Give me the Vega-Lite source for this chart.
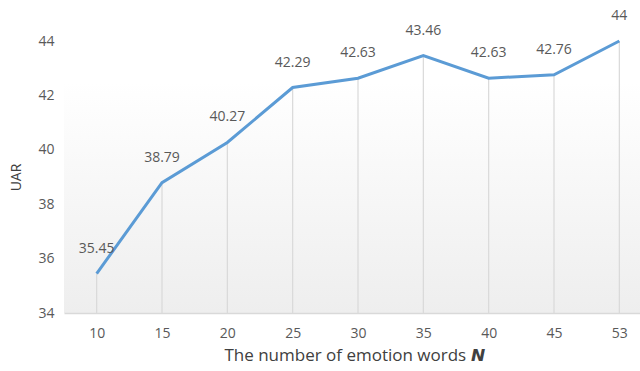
{
  "$schema": "https://vega.github.io/schema/vega-lite/v6.json",
  "width": 588,
  "height": 272,
  "autosize": "none",
  "padding": {"left": 64, "top": 41, "right": 0, "bottom": 58},
  "background": "white",
  "view": {
    "stroke": null,
    "fill": {
      "gradient": "linear",
      "x1": 0, "y1": 0, "x2": 0, "y2": 1,
      "stops": [
        {"offset": 0, "color": "#ffffff"},
        {"offset": 0.15, "color": "#ffffff"},
        {"offset": 1, "color": "#eeeeee"}
      ]
    }
  },
  "config": {
    "font": "Open Sans",
    "axis": {"labelColor": "#595959", "titleColor": "#404040", "labelFontSize": 14, "titleFontWeight": "normal"}
  },
  "data": {
    "values": [
      {"N": "10", "UAR": 35.45},
      {"N": "15", "UAR": 38.79},
      {"N": "20", "UAR": 40.27},
      {"N": "25", "UAR": 42.29},
      {"N": "30", "UAR": 42.63},
      {"N": "35", "UAR": 43.46},
      {"N": "40", "UAR": 42.63},
      {"N": "45", "UAR": 42.76},
      {"N": "53", "UAR": 44}
    ]
  },
  "encoding": {
    "x": {
      "field": "N",
      "type": "ordinal",
      "sort": null,
      "scale": {"type": "point", "padding": 0.5},
      "axis": {
        "title": "The number of emotion words 𝙉",
        "titleFontSize": 17,
        "titlePadding": 7,
        "titleAnchor": "middle",
        "titleX": 290,
        "labelAngle": 0,
        "labelPadding": 13,
        "ticks": false,
        "grid": false,
        "domainColor": "#d9d9d9",
        "domainWidth": 1.5
      }
    }
  },
  "layer": [
    {
      "mark": {"type": "rule", "color": "#d9d9d9", "strokeWidth": 1.2},
      "encoding": {
        "y": {"field": "UAR", "type": "quantitative"},
        "y2": {"datum": 34}
      }
    },
    {
      "mark": {"type": "line", "color": "#5b9bd5", "strokeWidth": 3},
      "encoding": {
        "y": {
          "field": "UAR",
          "type": "quantitative",
          "scale": {"domain": [34, 44], "nice": false, "zero": false},
          "axis": {
            "title": "UAR",
            "titleFontSize": 14,
            "titlePadding": 14,
            "values": [34, 36, 38, 40, 42, 44],
            "ticks": false,
            "domain": false,
            "grid": false,
            "labelPadding": 10
          }
        }
      }
    },
    {
      "mark": {"type": "text", "fontSize": 14, "color": "#595959", "baseline": "middle", "dy": -25},
      "encoding": {
        "y": {"field": "UAR", "type": "quantitative"},
        "text": {"field": "UAR", "type": "quantitative", "format": ".4~"}
      }
    }
  ]
}
